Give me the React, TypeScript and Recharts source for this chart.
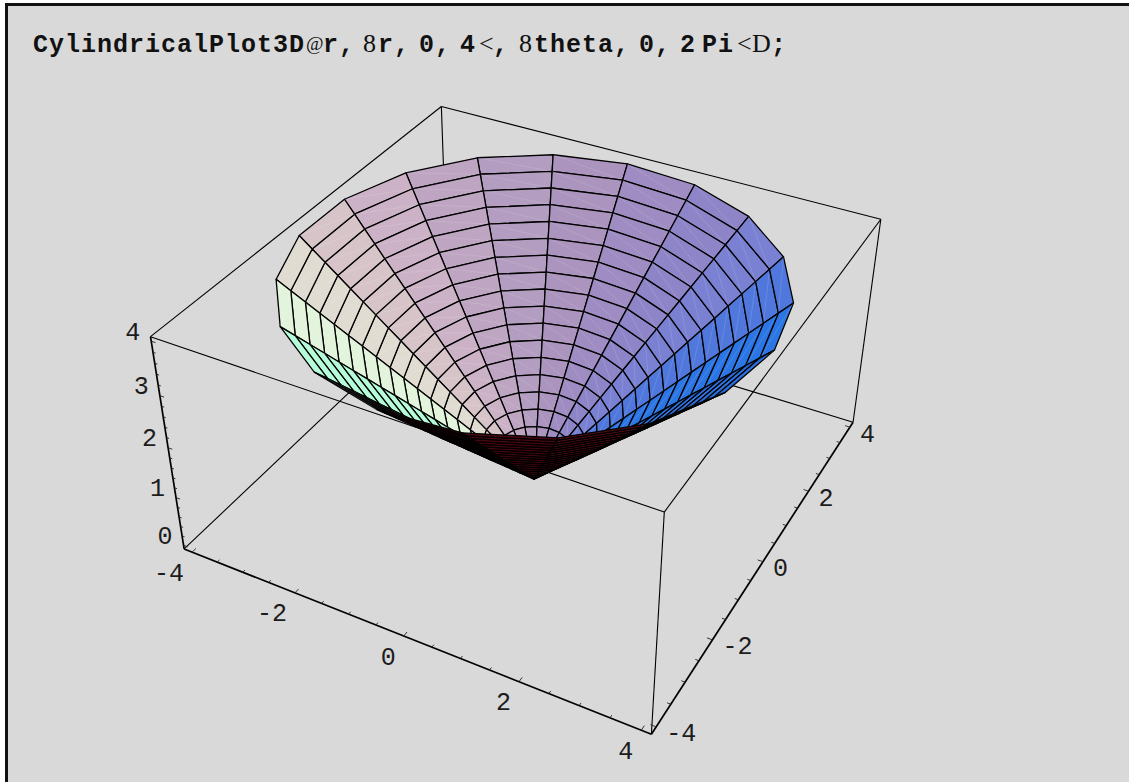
import { Scatter, ScatterChart, XAxis, YAxis } from "recharts";

// surface grid: 19 rings and 19 sectors
const radii = [
  0, 0.2105, 0.4211, 0.6316, 0.8421, 1.0526, 1.2632, 1.4737, 1.6842, 1.8947,
  2.1053, 2.3158, 2.5263, 2.7368, 2.9474, 3.1579, 3.3684, 3.5789, 3.7895, 4,
];
const spokeAngles = [
  0, 18.95, 37.89, 56.84, 75.79, 94.74, 113.68, 132.63, 151.58, 170.53, 189.47,
  208.42, 227.37, 246.32, 265.26, 284.21, 303.16, 322.11, 341.05, 360,
];
// one shade per sector, the facets of a sector are coplanar
const sectorColors = [
  "#2b76e4", "#5078dc", "#7a80d2", "#8e85c8", "#9e8cc2", "#ab94bd", "#b39dc0",
  "#bea5c2", "#ccb2c6", "#d6c4c9", "#e1dcd1", "#e3f4dc", "#b4fdd8", "#7fe0b8",
  "#4a0610", "#4a0610", "#500c14", "#501018", "#2269de",
];

const xTicks = [-4, -3.5, -3, -2.5, -2, -1.5, -1, -0.5, 0, 0.5, 1, 1.5, 2, 2.5, 3, 3.5, 4];
const yTicks = [-4, -3.5, -3, -2.5, -2, -1.5, -1, -0.5, 0, 0.5, 1, 1.5, 2, 2.5, 3, 3.5, 4];
const zTicks = [0, 0.2, 0.4, 0.6, 0.8, 1, 1.2, 1.4, 1.6, 1.8, 2, 2.2, 2.4, 2.6, 2.8, 3, 3.2, 3.4, 3.6, 3.8, 4];
const xLabels = [-4, -2, 0, 2, 4];
const yLabels = [-4, -2, 0, 2, 4];
const zLabels = [0, 1, 2, 3, 4];

// box corners in box units, the data range is padded a little inside it
const boxCorners: number[][] = [
  [-4, -4, 0], [4, -4, 0], [4, 4, 0], [-4, 4, 0],
  [-4, -4, 4], [4, -4, 4], [4, 4, 4], [-4, 4, 4],
];
const boxEdges = [
  [0, 3], [3, 2], [3, 7],
  [4, 5], [5, 6], [6, 7], [7, 4],
  [2, 6], [1, 5],
];
const axisEdges = [[0, 1], [1, 2], [0, 4]];

// Mathematica's default ViewPoint {1.3, -2.4, 2} scaled to the box
const camera = [10.4, -19.2, 18];
const lookAt = [0, 0, 2];

const WIDTH = 1129;
const HEIGHT = 782;
const VIEW_SCALE = 1739;
const VIEW_X = 534;
const VIEW_Y = 383.4;

const dot = (a: number[], b: number[]) => a[0] * b[0] + a[1] * b[1] + a[2] * b[2];
const viewDir = camera.map((c, i) => c - lookAt[i]);
const viewLen = Math.sqrt(dot(viewDir, viewDir));
const n = viewDir.map((v) => v / viewLen);
const rLen = Math.hypot(n[0], n[1]);
const r = [-n[1] / rLen, n[0] / rLen, 0];
const u = [n[1] * r[2] - n[2] * r[1], n[2] * r[0] - n[0] * r[2], n[0] * r[1] - n[1] * r[0]];

function project(p: number[]) {
  const q = p.map((v, i) => v - lookAt[i]);
  const depth = viewLen - dot(q, n);
  return { x: dot(q, r) / depth, y: dot(q, u) / depth };
}

// data values to box units
const box = (x: number, y: number, z: number) => [x / 1.04, y / 1.04, (4 * (z + 0.08)) / 4.16];

const conePoint = (ring: number, spoke: number) => {
  const t = (spokeAngles[spoke] * Math.PI) / 180;
  // the surface is z = r
  return box(radii[ring] * Math.cos(t), radii[ring] * Math.sin(t), radii[ring]);
};

const dist = (p: number[]) => Math.hypot(p[0] - camera[0], p[1] - camera[1], p[2] - camera[2]);

const quads = sectorColors
  .flatMap((color, k) =>
    radii.slice(1).map((_, j) => {
      const corners = [conePoint(j, k), conePoint(j + 1, k), conePoint(j + 1, k + 1), conePoint(j, k + 1)];
      const mid = [0, 1, 2].map((i) => corners.reduce((s, c) => s + c[i], 0) / 4);
      return {
        key: `${k}-${j}`,
        color,
        lit: k < 14 || k === 18,
        depth: dist(mid),
        points: [...corners, corners[0]].map(project),
        seam: [project(corners[2]), project(corners[0])],
      };
    }),
  )
  .sort((a, b) => b.depth - a.depth);

const segment = (a: number[], b: number[]) => [project(a), project(b)];

const AXIS_EDGE = 4.16;
const AXIS_FLOOR = -0.08;

const tickSegments = [
  ...xTicks.map((v) => segment(box(v, -AXIS_EDGE, AXIS_FLOOR), box(v, -AXIS_EDGE + (v % 2 === 0 ? 0.1 : 0.06), AXIS_FLOOR))),
  ...yTicks.map((v) => segment(box(AXIS_EDGE, v, AXIS_FLOOR), box(AXIS_EDGE - (v % 2 === 0 ? 0.09 : 0.06), v, AXIS_FLOOR))),
  ...zTicks.map((v) => segment(box(-AXIS_EDGE, -AXIS_EDGE, v), box(-AXIS_EDGE + (Number.isInteger(v) ? 0.08 : 0.05), -AXIS_EDGE, v))),
];

const xLabelData = xLabels.map((v) => ({ ...project(box(v, -AXIS_EDGE, AXIS_FLOOR)), label: v }));
const yLabelData = yLabels.map((v) => ({ ...project(box(AXIS_EDGE, v, AXIS_FLOOR)), label: v }));
const zLabelData = zLabels.map((v) => ({ ...project(box(-AXIS_EDGE, -AXIS_EDGE, v)), label: v }));

const NoDot = () => <g />;

const tickLabel = (dx: number, dy: number, anchor: "start" | "end") => (p: any) => (
  <text
    x={p.cx + dx}
    y={p.cy + dy}
    textAnchor={anchor}
    dominantBaseline="central"
    fontFamily="Liberation Mono"
    fontSize={25}
    fill="#1c1c1c"
  >
    {p.payload.label}
  </text>
);

// Mathematica prints some of the brackets in its own symbol font
const titleParts: [string, number, boolean][] = [
  ["CylindricalPlot3D", 33, true],
  ["r,", 323, true],
  ["8", 363, false],
  ["r,", 378, true],
  ["0,", 419, true],
  ["4", 460, true],
  ["<", 479, false],
  [",", 493, true],
  ["8", 519, false],
  ["theta,", 534, true],
  ["0,", 639, true],
  ["2", 680, true],
  ["Pi", 702, true],
  ["<", 737, false],
  ["D", 752, false],
  [";", 771, true],
];

export default function App() {
  return (
    <div style={{ position: "absolute", left: 0, top: 0, width: WIDTH, height: HEIGHT, background: "#fff", overflow: "hidden" }}>
      <div
        style={{
          position: "absolute",
          left: 5,
          top: 3,
          width: WIDTH - 5,
          height: HEIGHT - 3,
          boxSizing: "border-box",
          background: "#d9d9d9",
          borderTop: "3px solid #111",
          borderLeft: "3px solid #111",
        }}
      />
      <div style={{ position: "absolute", left: 0, top: 0 }}>
        <ScatterChart width={WIDTH} height={HEIGHT} margin={{ top: 0, right: 0, bottom: 0, left: 0 }}>
          <XAxis
            hide
            type="number"
            dataKey="x"
            domain={[(0 - VIEW_X) / VIEW_SCALE, (WIDTH - VIEW_X) / VIEW_SCALE]}
          />
          <YAxis
            hide
            type="number"
            dataKey="y"
            domain={[(VIEW_Y - HEIGHT) / VIEW_SCALE, VIEW_Y / VIEW_SCALE]}
          />
          {boxEdges.map(([a, b]) => (
            <Scatter
              key={`edge-${a}-${b}`}
              data={segment(boxCorners[a], boxCorners[b])}
              line={{ stroke: "#000", strokeWidth: 1.1, fill: "none" }}
              shape={NoDot}
              isAnimationActive={false}
            />
          ))}
          {axisEdges.map(([a, b]) => (
            <Scatter
              key={`axis-${a}-${b}`}
              data={segment(boxCorners[a], boxCorners[b])}
              line={{ stroke: "#000", strokeWidth: 1.7, fill: "none" }}
              shape={NoDot}
              isAnimationActive={false}
            />
          ))}
          {tickSegments.map((s, i) => (
            <Scatter
              key={`tick-${i}`}
              data={s}
              line={{ stroke: "#222", strokeWidth: 0.9, fill: "none" }}
              shape={NoDot}
              isAnimationActive={false}
            />
          ))}
          {quads.flatMap((q) => [
            <Scatter
              key={q.key}
              data={q.points}
              line={{ stroke: "#000", strokeWidth: 1.3, fill: q.color, strokeLinejoin: "round" }}
              shape={NoDot}
              isAnimationActive={false}
            />,
            <Scatter
              key={`${q.key}-seam`}
              data={q.seam}
              line={{ stroke: q.lit ? "rgba(255,255,255,0.16)" : "rgba(255,255,255,0)", strokeWidth: 0.8, fill: "none" }}
              shape={NoDot}
              isAnimationActive={false}
            />,
          ])}
          <Scatter data={xLabelData} shape={tickLabel(-8, 22, "end")} isAnimationActive={false} />
          <Scatter data={yLabelData} shape={tickLabel(10, 8, "start")} isAnimationActive={false} />
          <Scatter data={zLabelData} shape={tickLabel(-11, -8, "end")} isAnimationActive={false} />
        </ScatterChart>
      </div>
      <svg width={WIDTH} height={HEIGHT} style={{ position: "absolute", left: 0, top: 0, pointerEvents: "none" }}>
        {titleParts.map(([text, x, bold]) => (
          <text
            key={`${text}-${x}`}
            x={x}
            y={52}
            fontFamily={bold ? "Liberation Mono" : "Liberation Serif"}
            fontWeight={bold ? 700 : 400}
            fontSize={bold ? 25 : 26}
            letterSpacing={bold ? 1 : 0}
            fill="#111"
          >
            {text}
          </text>
        ))}
        <text x={306} y={50} fontFamily="Liberation Serif" fontSize={19} fill="#111">
          @
        </text>
      </svg>
    </div>
  );
}
